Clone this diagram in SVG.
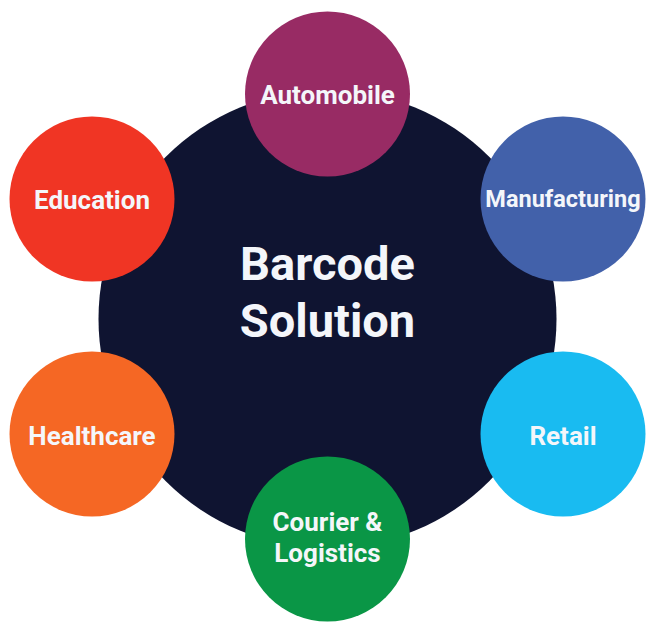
<svg xmlns="http://www.w3.org/2000/svg" width="658" height="632" viewBox="0 0 658 632">
<style>
text{font-family:Roboto,"Liberation Sans",sans-serif;font-weight:700;fill:#f4f6fa;text-anchor:middle}
.n{font-size:26px}
.m{font-size:23.500px}
.c{font-size:47px}
</style>
<rect width="658" height="632" fill="#ffffff"/>
<g id="center"><circle cx="327.500" cy="319" r="229" fill="#0f1431"/><text class="c" x="327.500" y="280">Barcode</text><text class="c" x="327.500" y="337">Solution</text></g>
<g id="automobile"><circle cx="327.500" cy="94" r="82.500" fill="#982b64"/><text class="n" x="327.500" y="104">Automobile</text></g>
<g id="manufacturing"><circle cx="563" cy="199" r="82.500" fill="#4261aa"/><text class="m" x="563" y="207">Manufacturing</text></g>
<g id="retail"><circle cx="563" cy="434" r="82.500" fill="#19bbf1"/><text class="n" x="563" y="445">Retail</text></g>
<g id="courier"><circle cx="327.500" cy="539" r="82.500" fill="#0a9646"/><text class="n" x="327.500" y="531">Courier &amp;</text><text class="n" x="327.500" y="562">Logistics</text></g>
<g id="healthcare"><circle cx="92" cy="434" r="82.500" fill="#f56724"/><text class="n" x="92" y="445">Healthcare</text></g>
<g id="education"><circle cx="92" cy="199" r="82.500" fill="#f03524"/><text class="n" x="92" y="209">Education</text></g>
<g id="connectors"></g>
</svg>
